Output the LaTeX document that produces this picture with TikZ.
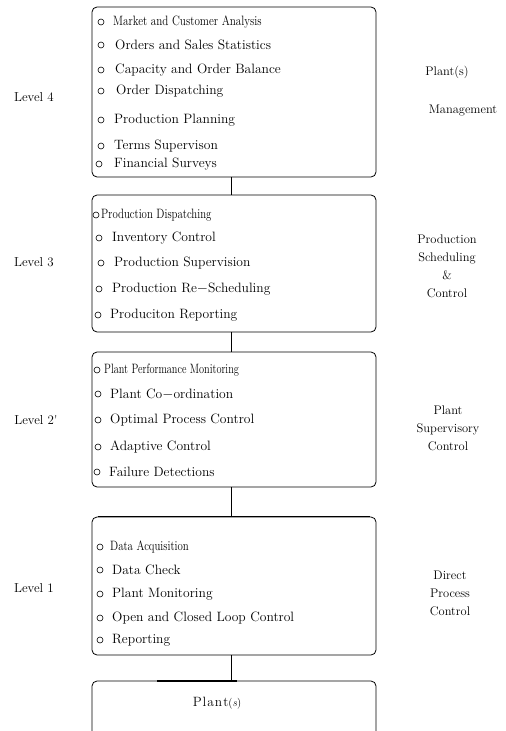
\documentclass[tikz,border=0pt]{standalone}
\usepackage{graphicx}
\begin{document}
\begin{tikzpicture}[x=1bp,y=-1bp,
  lvlbox/.style={draw, line width=0.8pt, rounded corners=5bp, minimum width=284bp, inner sep=0pt},
  bul/.style={draw, circle, line width=0.6pt, minimum size=6bp, inner sep=0pt},
  item/.style={anchor=west, inner sep=0pt, font=\fontsize{13.6}{15}\selectfont},
  lvl/.style={inner sep=0pt, font=\fontsize{13}{15}\selectfont},
  side/.style={inner sep=0pt, align=center, font=\fontsize{12.5}{18}\selectfont},
  conn/.style={line width=0.8pt}]
\useasboundingbox (0,0) rectangle (506,731);

% level boxes
\node[lvlbox, minimum height=170bp] (box4) at (234,92) {};
\node[lvlbox, minimum height=137bp] (box3) at (234,263.5) {};
\node[lvlbox, minimum height=135bp] (box2) at (234,419.5) {};
\node[lvlbox, minimum height=138bp] (box1) at (234,586) {};
\node[lvlbox, minimum height=70bp] (plant) at (234,716) {};
\node[inner sep=0pt, font=\fontsize{13.5}{15}\selectfont] (plantlbl) at (217,703) {P\kern1pt l\kern1pt a\kern1pt n\kern1pt t{\fontsize{11}{13}\selectfont(\textit{s})}};

% thicker top edge of level 1 box
\draw[line width=1.6pt] ([xshift=6bp]box1.north west) -- ([xshift=-6bp]box1.north east);

% connectors
\draw[conn] ([xshift=-3bp]box4.south) -- ([xshift=-3bp]box3.north);
\draw[conn] ([xshift=-3bp]box3.south) -- ([xshift=-3bp]box2.north);
\draw[conn] ([xshift=-3bp]box2.south) -- ([xshift=-3bp]box1.north);
\draw[conn] ([xshift=-3bp]box1.south) -- coordinate (pj) ([xshift=-3bp]plant.north);
\coordinate (thk) at ([xshift=-74bp]plant.north -| pj);
\draw[line width=1.8pt] (thk) -- ([xshift=6bp]plant.north -| pj);

% Level 4 items
\node[bul] (u41) at (101,22) {};  \node[item] (i41) at (113,22) {\scalebox{0.82}[1]{Market and Customer Analysis}};
\node[bul] (u42) at (101,45) {};  \node[item] (i42) at (115,45) {Orders and Sales Statistics};
\node[bul] (u43) at (101,70) {};  \node[item] (i43) at (115,70) {Capacity and Order Balance};
\node[bul] (u44) at (101,91) {};  \node[item] (i44) at (116,91) {Order Dispatching};
\node[bul] (u45) at (101,120) {}; \node[item] (i45) at (114,120) {Production Planning};
\node[bul] (u46) at (101,146) {}; \node[item] (i46) at (114,146) {Terms Supervison};
\node[bul] (u47) at (99,164) {};  \node[item] (i47) at (114,164) {Financial Surveys};

% Level 3 items
\node[bul] (u31) at (96,215) {};  \node[item] (i31) at (101,215) {\scalebox{0.8}[1]{Production Dispatching}};
\node[bul] (u32) at (99,238) {};  \node[item] (i32) at (112,238) {Inventory Control};
\node[bul] (u33) at (101,263) {}; \node[item] (i33) at (114,263) {Production Supervision};
\node[bul] (u34) at (99,289) {};  \node[item] (i34) at (112,289) {Production Re$-$Scheduling};
\node[bul] (u35) at (98,315) {};  \node[item] (i35) at (110,315) {Produciton Reporting};

% Level 2 items
\node[bul] (u21) at (97,370) {};  \node[item] (i21) at (104,370) {\scalebox{0.76}[1]{Plant Performance Monitoring}};
\node[bul] (u22) at (98,394) {};  \node[item] (i22) at (110,394) {Plant Co$-$ordination};
\node[bul] (u23) at (98,420) {};  \node[item] (i23) at (110,420) {Optimal Process Control};
\node[bul] (u24) at (98,447) {};  \node[item] (i24) at (110,447) {Adaptive Control};
\node[bul] (u25) at (97,472) {};  \node[item] (i25) at (109,472) {Failure Detections};

% Level 1 items
\node[bul] (u11) at (100,547) {}; \node[item] (i11) at (110,547) {\scalebox{0.8}[1]{Data Acquisition}};
\node[bul] (u12) at (100,570) {}; \node[item] (i12) at (112,570) {Data Check};
\node[bul] (u13) at (100,594) {}; \node[item] (i13) at (112,594) {Plant Monitoring};
\node[bul] (u14) at (100,618) {}; \node[item] (i14) at (112,618) {Open and Closed Loop Control};
\node[bul] (u15) at (100,640) {}; \node[item] (i15) at (112,640) {Reporting};

% left labels
\node[lvl] (l4) at (34,97) {Level 4};
\node[lvl] (l3) at (34,262) {Level 3};
\node[lvl] (l2) at (36,420) {Level 2\textquotesingle};
\node[lvl] (l1) at (34,588) {Level 1};

% right labels
\node[side] (r4a) at (447,72) {Plant(s)};
\node[side] (r4b) at (463,111) {Management};
\node[side] (r3) at (447,266.5) {Production\\Scheduling\\\&\\Control};
\node[side] (r2) at (448,428) {Plant\\Supervisory\\Control};
\node[side] (r1) at (450,593) {Direct\\Process\\Control};
\end{tikzpicture}
\end{document}
